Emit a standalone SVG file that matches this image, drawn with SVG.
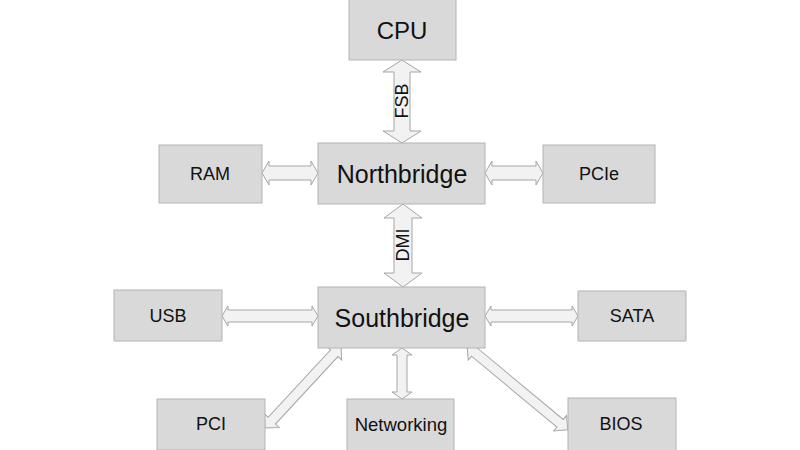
<svg xmlns="http://www.w3.org/2000/svg" width="800" height="450" viewBox="0 0 800 450">
<style>
.box{fill:#d9d9d9;stroke:#b4b4b4;stroke-width:1}
.arr{fill:#f2f2f2;stroke:#a6a6a6;stroke-width:1;stroke-linejoin:miter}
text{font-family:"Liberation Sans",Arial,sans-serif;fill:#111;text-anchor:middle;dominant-baseline:central}
.big{font-size:25px}
.sm{font-size:18px}
</style>
<rect width="800" height="450" fill="#fff"/>
<g id="connectors">
<polygon class="arr" points="402,60 421,72 410,72 410,131 421,131 402,143 383,131 394,131 394,72 383,72"/>
<polygon class="arr" points="403,204 422,218 412,218 412,273 422,273 403,287 384,273 394,273 394,218 384,218"/>
<polygon class="arr" points="262,173 269,161 269,166 311,166 311,161 318,173 311,185 311,180 269,180 269,185"/>
<polygon class="arr" points="485,173 492,161 492,166 536,166 536,161 543,173 536,185 536,180 492,180 492,185"/>
<polygon class="arr" points="222,316 228,306 228,310 312,310 312,306 318,316 312,326 312,322 228,322 228,326"/>
<polygon class="arr" points="485,316 491,306 491,310 572,310 572,306 578,316 572,326 572,322 491,322 491,326"/>
<polygon class="arr" points="402,348 412,355 407,355 407,392 412,392 402,399 392,392 397,392 397,355 392,355"/>
<polygon class="arr" transform="translate(265,428) rotate(-47.2)" points="0,0 10,-10 10,-5 102,-5 102,-10 112,0 102,10 102,5 10,5 10,10"/>
<polygon class="arr" transform="translate(467,346) rotate(39.7)" points="0,0 10,-10 10,-5 121,-5 121,-10 131,0 121,10 121,5 10,5 10,10"/>
<text class="sm" transform="translate(402,101) rotate(-90)">FSB</text>
<text class="sm" transform="translate(403,245) rotate(-90)">DMI</text>
</g>
<g id="cpu"><rect class="box" x="349" y="-2" width="107" height="62"/><text x="402" y="30" style="font-size:24px">CPU</text></g>
<g id="northbridge"><rect class="box" x="318" y="143" width="167" height="61"/><text class="big" x="402" y="174">Northbridge</text></g>
<g id="ram"><rect class="box" x="159" y="145" width="103" height="58"/><text class="sm" x="210" y="174">RAM</text></g>
<g id="pcie"><rect class="box" x="543" y="145" width="112" height="58"/><text class="sm" x="599" y="174">PCIe</text></g>
<g id="southbridge"><rect class="box" x="318" y="287" width="167" height="61"/><text class="big" x="402" y="318">Southbridge</text></g>
<g id="usb"><rect class="box" x="114" y="290" width="108" height="51"/><text class="sm" x="168" y="316">USB</text></g>
<g id="sata"><rect class="box" x="578" y="291" width="108" height="50"/><text class="sm" x="632" y="316">SATA</text></g>
<g id="pci"><rect class="box" x="157" y="399" width="108" height="51"/><text class="sm" x="211" y="424">PCI</text></g>
<g id="networking"><rect class="box" x="347" y="399" width="107" height="52"/><text class="sm" x="401" y="424" style="font-size:18.5px">Networking</text></g>
<g id="bios"><rect class="box" x="568" y="398" width="108" height="53"/><text class="sm" x="621" y="424">BIOS</text></g>
</svg>
